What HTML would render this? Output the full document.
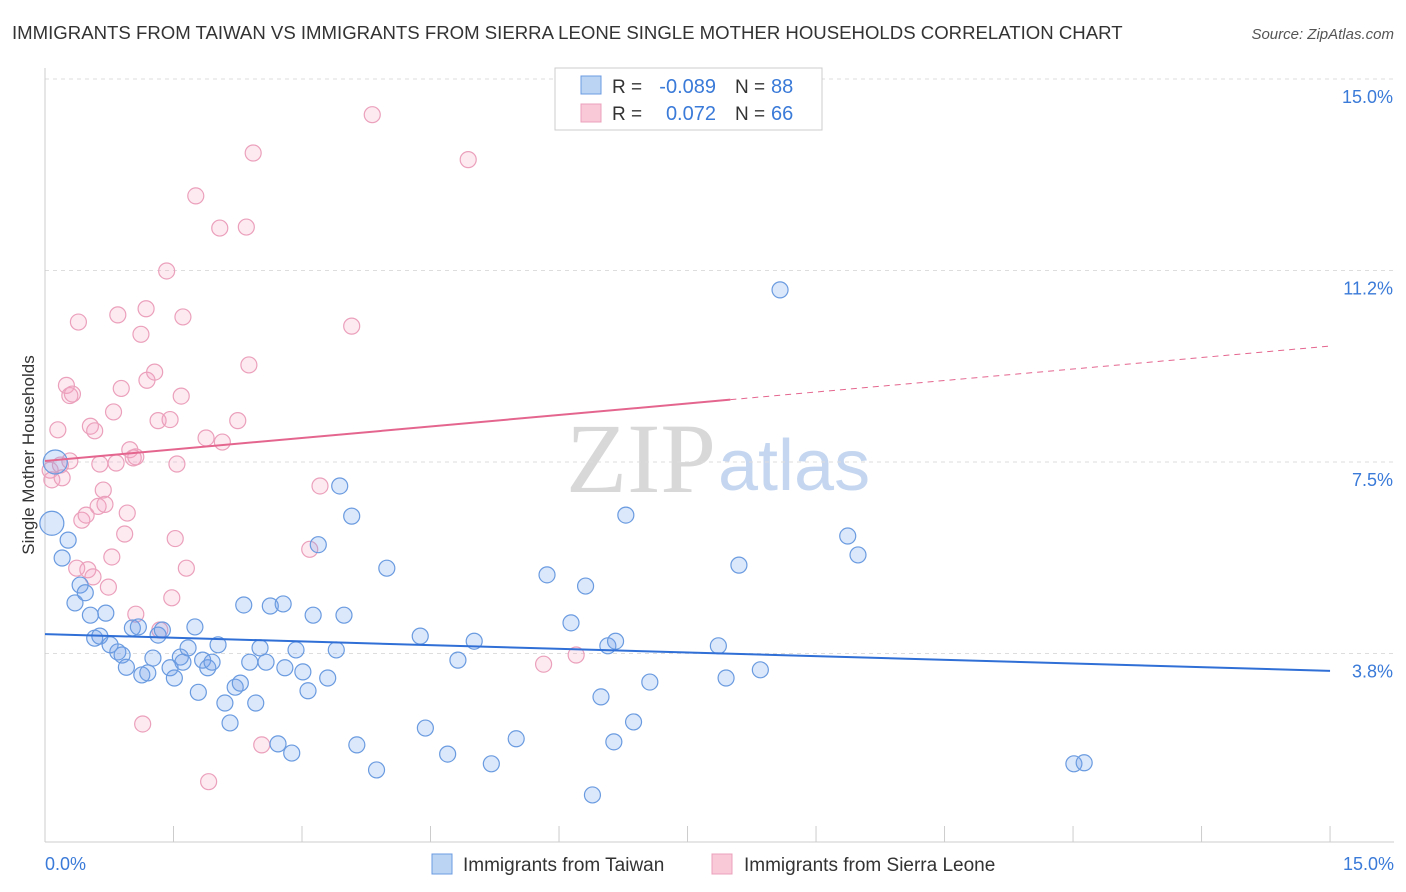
<!DOCTYPE html>
<html><head><meta charset="utf-8"><style>
body{margin:0;background:#fff;font-family:"Liberation Sans",sans-serif}
svg{display:block}
</style></head><body>
<svg id="chart" width="1406" height="892" xmlns="http://www.w3.org/2000/svg">
<text x="12" y="39" font-size="18.6" fill="#333">IMMIGRANTS FROM TAIWAN VS IMMIGRANTS FROM SIERRA LEONE SINGLE MOTHER HOUSEHOLDS CORRELATION CHART</text>
<text x="1394" y="39" font-size="15" fill="#555" font-style="italic" text-anchor="end">Source: ZipAtlas.com</text>
<text x="716" y="492" font-size="100" fill="#d8d8d8" text-anchor="end" font-family="Liberation Serif">ZIP</text>
<text x="718" y="490" font-size="72" fill="#c5d7f0">atlas</text>
<g id="grid"></g><g id="axes"></g><g id="pts"></g><g id="trend"></g>
<text transform="translate(34,455) rotate(-90)" font-size="17" fill="#333" text-anchor="middle">Single Mother Households</text>
<g>
<rect x="555" y="68" width="267" height="62" fill="#fff" stroke="#ccc"/>
<rect x="581" y="76" width="20" height="18" fill="#bcd4f4" stroke="#6a9be0"/>
<rect x="581" y="104" width="20" height="18" fill="#f9c9d8" stroke="#eba0bb"/>
<text x="612" y="93" font-size="19" fill="#333">R =</text>
<text x="716" y="93" font-size="20" fill="#3a7ad8" text-anchor="end">-0.089</text>
<text x="735" y="93" font-size="19" fill="#333">N =</text>
<text x="771" y="93" font-size="20" fill="#3a7ad8">88</text>
<text x="612" y="120" font-size="19" fill="#333">R =</text>
<text x="716" y="120" font-size="20" fill="#3a7ad8" text-anchor="end">0.072</text>
<text x="735" y="120" font-size="19" fill="#333">N =</text>
<text x="771" y="120" font-size="20" fill="#3a7ad8">66</text>
</g>
<g>
<rect x="432" y="854" width="20" height="20" fill="#bcd4f4" stroke="#6a9be0"/>
<text x="463" y="871" font-size="19" fill="#333">Immigrants from Taiwan</text>
<rect x="712" y="854" width="20" height="20" fill="#f9c9d8" stroke="#eba0bb"/>
<text x="744" y="871" font-size="19" fill="#333">Immigrants from Sierra Leone</text>
</g>
</svg>
<script>
const yTicks=[3.75,7.5,11.25,15];
const yTickLabels=["3.8%","7.5%","11.2%","15.0%"];
const xTicks=[0,1.5,3,4.5,6,7.5,9,10.5,12,13.5,15];
const blueX=[0.08,0.12,0.2,0.27,0.41,0.35,0.47,0.53,0.58,0.64,0.71,0.76,0.85,0.9,0.95,1.02,1.09,1.13,1.2,1.26,1.32,1.37,1.46,1.51,1.58,1.61,1.67,1.75,1.79,1.84,1.9,1.95,2.02,2.1,2.16,2.22,2.28,2.32,2.39,2.46,2.51,2.58,2.63,2.72,2.78,2.8,2.88,2.93,3.01,3.07,3.13,3.19,3.3,3.4,3.44,3.49,3.58,3.64,3.87,3.99,4.38,4.44,4.7,4.82,5.01,5.21,5.5,5.86,6.14,6.31,6.39,6.49,6.57,6.64,6.66,6.78,6.87,7.06,7.86,7.95,8.1,8.35,8.58,9.37,9.49,12.01,12.13];
const blueY=[6.3,7.5,5.62,5.97,5.09,4.74,4.94,4.5,4.05,4.09,4.54,3.92,3.78,3.72,3.48,4.25,4.27,3.33,3.37,3.66,4.11,4.21,3.47,3.27,3.68,3.58,3.86,4.27,2.99,3.62,3.47,3.58,3.92,2.78,2.39,3.09,3.17,4.7,3.58,2.78,3.86,3.58,4.68,1.98,4.72,3.47,1.8,3.82,3.39,3.02,4.5,5.88,3.27,3.82,7.03,4.5,6.44,1.96,1.47,5.42,4.09,2.29,1.78,3.62,3.99,1.59,2.08,5.29,4.35,5.07,0.98,2.9,3.9,2.02,3.99,6.46,2.41,3.19,3.9,3.27,5.48,3.43,10.87,6.05,5.68,1.59,1.61];
const pinkX=[0.06,0.08,0.15,0.18,0.2,0.25,0.29,0.32,0.29,0.39,0.37,0.43,0.48,0.5,0.53,0.56,0.58,0.64,0.62,0.68,0.7,0.74,0.78,0.8,0.83,0.85,0.89,0.93,0.96,0.99,1.03,1.06,1.06,1.12,1.14,1.18,1.19,1.28,1.32,1.34,1.42,1.46,1.48,1.52,1.54,1.59,1.61,1.65,1.76,1.88,1.91,2.04,2.07,2.25,2.35,2.38,2.43,2.53,3.09,3.21,3.58,3.82,4.94,5.82,6.2];
const pinkY=[7.34,7.15,8.13,7.44,7.19,9.0,8.8,8.83,7.52,10.24,5.42,6.36,6.46,5.39,8.2,5.25,8.11,7.46,6.63,6.95,6.67,5.05,5.64,8.48,7.48,10.38,8.94,6.09,6.5,7.74,7.58,7.6,4.52,10.0,2.37,10.5,9.1,9.26,8.31,4.21,11.24,8.33,4.84,6.0,7.46,8.79,10.34,5.42,12.71,7.97,1.24,12.08,7.89,8.31,12.1,9.4,13.55,1.96,5.79,7.03,10.16,14.3,13.42,3.54,3.72];
const blueTrend=[4.13,3.41];
const pinkTrend=[7.52,9.77];
const pinkSolidEnd=8.0;
const NS="http://www.w3.org/2000/svg";
const xs=v=>45+v*85.67, ys=v=>845-v*51.07;
function mk(tag,attrs,parent){const e=document.createElementNS(NS,tag);for(const k in attrs)e.setAttribute(k,attrs[k]);document.getElementById(parent).appendChild(e);return e;}
yTicks.forEach((t,i)=>{
 const l=mk('line',{x1:45,x2:1394,y1:ys(t),y2:ys(t),stroke:'#ddd','stroke-dasharray':'4,4'},'grid');
 
 
 const tx=mk('text',{x:1393,y:ys(t)+24,'font-size':18,fill:'#3a7ad8','text-anchor':'end'},'axes');
 tx.textContent=yTickLabels[i];
 
 
});
const ax=mk('line',{x1:45,x2:45,y1:68,y2:842,stroke:'#ccc'},'axes');


const bx=mk('line',{x1:45,x2:1394,y1:842,y2:842,stroke:'#ccc'},'axes');


xTicks.forEach(t=>{
 const l=mk('line',{x1:xs(t),x2:xs(t),y1:826,y2:842,stroke:'#ccc'},'axes');
 
 
});
const x0=mk('text',{x:45,y:870,'font-size':18,fill:'#3a7ad8'},'axes');x0.textContent='0.0%';


const x1=mk('text',{x:1394,y:870,'font-size':18,fill:'#3a7ad8','text-anchor':'end'},'axes');x1.textContent='15.0%';


function pts(X,Y,fill,stroke,name){X.forEach((x,i)=>{
 const r=(i<2&&name==='taiwan-point')?12:8;
 const c=mk('circle',{cx:xs(x),cy:ys(Y[i]),r:r,fill:fill,stroke:stroke,'stroke-width':1.2},'pts');
 
 
});}
pts(pinkX,pinkY,'rgba(244,160,190,0.22)','#eba0bb','sierra-leone-point');
pts(blueX,blueY,'rgba(110,160,235,0.25)','#6a9be0','taiwan-point');
const bt=mk('line',{x1:xs(0),y1:ys(blueTrend[0]),x2:xs(15),y2:ys(blueTrend[1]),stroke:'#2f6fd6','stroke-width':2},'trend');


const pAt=v=>pinkTrend[0]+(pinkTrend[1]-pinkTrend[0])*v/15;
const pt=mk('line',{x1:xs(0),y1:ys(pinkTrend[0]),x2:xs(pinkSolidEnd),y2:ys(pAt(pinkSolidEnd)),stroke:'#e4668f','stroke-width':2},'trend');


const pd=mk('line',{x1:xs(pinkSolidEnd),y1:ys(pAt(pinkSolidEnd)),x2:xs(15),y2:ys(pinkTrend[1]),stroke:'#e4668f','stroke-width':1,'stroke-dasharray':'6,5'},'trend');


</script>
</body></html>
